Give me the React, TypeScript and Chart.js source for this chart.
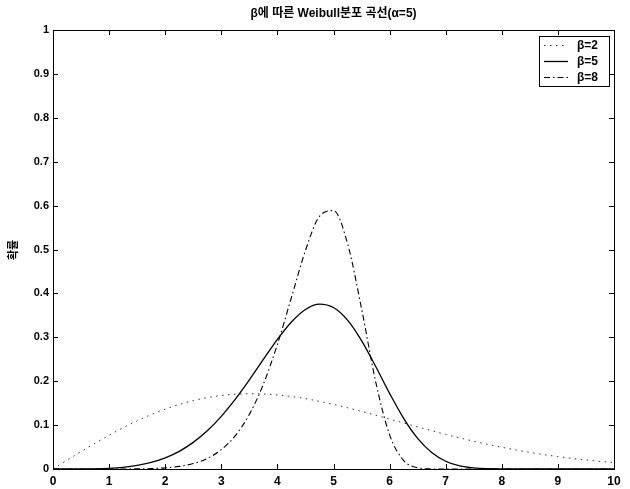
import { useEffect, useRef } from 'react';
import { Chart, registerables } from 'chart.js';

Chart.register(...registerables);

const xValues = [
  0, 0.25, 0.5, 0.75, 1, 1.25, 1.5, 1.75, 2, 2.25, 2.5, 2.75, 3, 3.25, 3.5, 3.75,
  4, 4.25, 4.5, 4.75, 5, 5.25, 5.5, 5.75, 6, 6.25, 6.5, 6.75, 7, 7.25, 7.5, 7.75,
  8, 8.25, 8.5, 8.75, 9, 9.25, 9.5, 9.75, 10,
];

const beta2 = [
  0, 0.02, 0.0396, 0.0587, 0.0769, 0.0939, 0.1097, 0.1239, 0.1363, 0.147, 0.1558,
  0.1626, 0.1674, 0.1704, 0.1715, 0.1709, 0.1687, 0.1651, 0.1602, 0.1541, 0.1472,
  0.1395, 0.1312, 0.1226, 0.1137, 0.1048, 0.0959, 0.0873, 0.0789, 0.0708, 0.0632,
  0.0561, 0.0495, 0.0434, 0.0378, 0.0328, 0.0282, 0.0241, 0.0205, 0.0174, 0.0147,
];

const beta5 = [
  0, 0, 0.0001, 0.0005, 0.0016, 0.0039, 0.0081, 0.0149, 0.0253, 0.0403, 0.0606,
  0.087, 0.1199, 0.159, 0.203, 0.2495, 0.2952, 0.335, 0.3635, 0.3757, 0.3679,
  0.3392, 0.2925, 0.234, 0.1723, 0.1154, 0.0697, 0.0375, 0.0177, 0.0073, 0.0025,
  0.0007, 0.0002, 0, 0, 0, 0, 0, 0, 0, 0,
];

const beta8 = [
  0, 0, 0, 0, 0, 0.0001, 0.0003, 0.001, 0.0026, 0.006, 0.0124, 0.0241, 0.044,
  0.076, 0.1244, 0.1932, 0.2838, 0.3906, 0.4976, 0.5756, 0.5886, 0.5138, 0.3655,
  0.1998, 0.0778, 0.0197, 0.0029, 0.0002, 0, 0, 0, 0, 0, 0, 0, 0, 0, 0, 0, 0, 0,
];

const seriesLabels = ['β=2', 'β=5', 'β=8'];
const xTicks = [0, 1, 2, 3, 4, 5, 6, 7, 8, 9, 10];
const yTicks = [0, 0.1, 0.2, 0.3, 0.4, 0.5, 0.6, 0.7, 0.8, 0.9, 1];
const titleText = 'β에 따른 Weibull분포 곡선(α=5)';
const yTitleText = '확률';

const FONT = '"Liberation Sans", Arial, "Noto Sans CJK KR", sans-serif';

const styles = [
  { color: '#333', width: 1, dash: [1.5, 4.5] },
  { color: '#000', width: 1.3, dash: [] as number[] },
  { color: '#000', width: 1.1, dash: [6, 3, 1.5, 3] },
];

const decorPlugin = {
  id: 'decor',
  afterDatasetsDraw(chart: any) {
    const { ctx, chartArea: a, scales } = chart;
    ctx.save();
    ctx.setLineDash([]);
    ctx.strokeStyle = '#000';
    ctx.lineWidth = 1;
    ctx.strokeRect(Math.round(a.left) + 0.5, Math.round(a.top) + 0.5, Math.round(a.right - a.left), Math.round(a.bottom - a.top));
    const L = 5;
    ctx.beginPath();
    xTicks.forEach((v) => {
      const px = Math.round(scales.x.getPixelForValue(v)) + 0.5;
      ctx.moveTo(px, a.bottom);
      ctx.lineTo(px, a.bottom - L);
      ctx.moveTo(px, a.top);
      ctx.lineTo(px, a.top + L);
    });
    yTicks.forEach((v) => {
      const py = Math.round(scales.y.getPixelForValue(v)) + 0.5;
      ctx.moveTo(a.left, py);
      ctx.lineTo(a.left + L, py);
      ctx.moveTo(a.right, py);
      ctx.lineTo(a.right - L, py);
    });
    ctx.stroke();

    // title
    ctx.fillStyle = '#000';
    ctx.font = `bold 12px ${FONT}`;
    ctx.textAlign = 'center';
    ctx.textBaseline = 'middle';
    ctx.fillText(titleText, (a.left + a.right) / 2, 14);

    // y title, rotated
    ctx.save();
    ctx.translate(14, 250);
    ctx.rotate(-Math.PI / 2);
    ctx.font = `bold 11px ${FONT}`;
    ctx.fillText(yTitleText, 0, 0);
    ctx.restore();

    // legend
    const bx = 539.5, by = 36.5, bw = 70, bh = 50;
    ctx.fillStyle = '#fff';
    ctx.fillRect(bx, by, bw, bh);
    ctx.strokeStyle = '#000';
    ctx.lineWidth = 1;
    ctx.strokeRect(bx, by, bw, bh);
    seriesLabels.forEach((lab, i) => {
      const y = by + 9 + i * 16;
      const s = styles[i];
      ctx.beginPath();
      ctx.setLineDash(s.dash);
      ctx.strokeStyle = s.color;
      ctx.lineWidth = s.width;
      ctx.moveTo(544, y);
      ctx.lineTo(568, y);
      ctx.stroke();
      ctx.setLineDash([]);
      ctx.fillStyle = '#000';
      ctx.font = `bold 12px ${FONT}`;
      ctx.textAlign = 'left';
      ctx.textBaseline = 'middle';
      ctx.fillText(lab, 577, y + 0.5);
    });
    ctx.restore();
  },
};

export default function App() {
  const ref = useRef<HTMLCanvasElement | null>(null);
  useEffect(() => {
    if (!ref.current) return;
    const series = [beta2, beta5, beta8];
    const chart = new Chart(ref.current, {
      type: 'line',
      data: {
        datasets: series.map((ys, i) => ({
          label: seriesLabels[i],
          data: xValues.map((x, j) => ({ x, y: ys[j] })),
          borderColor: styles[i].color,
          borderWidth: styles[i].width,
          borderDash: styles[i].dash,
          pointRadius: 0,
          fill: false,
          cubicInterpolationMode: 'monotone' as const,
        })),
      },
      options: {
        animation: false,
        responsive: false,
        devicePixelRatio: 1,
        layout: { padding: { left: 0, right: 16, top: 30, bottom: 0 } },
        plugins: { legend: { display: false }, title: { display: false }, tooltip: { enabled: false } },
        scales: {
          x: {
            type: 'linear',
            min: 0,
            max: 10,
            afterFit: (s: any) => { s.height = 20; },
            afterBuildTicks: (s: any) => { s.ticks = xTicks.map((v) => ({ value: v })); },
            grid: { display: false, drawTicks: false },
            border: { display: false },
            ticks: { padding: 5, color: '#000', font: { family: FONT, size: 12, weight: 'bold' }, maxRotation: 0, autoSkip: false, callback: (v: any) => String(v) },
          },
          y: {
            type: 'linear',
            min: 0,
            max: 1,
            afterFit: (s: any) => { s.width = 53; },
            afterBuildTicks: (s: any) => { s.ticks = yTicks.map((v) => ({ value: v })); },
            grid: { display: false, drawTicks: false },
            border: { display: false },
            ticks: { padding: 4, color: '#000', font: { family: FONT, size: 11, weight: 'bold' }, autoSkip: false, callback: (v: any) => String(Math.round(v * 10) / 10) },
          },
        },
      },
      plugins: [decorPlugin],
    });
    return () => chart.destroy();
  }, []);
  return (
    <div style={{ position: 'fixed', left: 0, top: 0, width: 630, height: 489, background: '#fff' }}>
      <canvas ref={ref} width={630} height={489} style={{ width: 630, height: 489 }} />
    </div>
  );
}
